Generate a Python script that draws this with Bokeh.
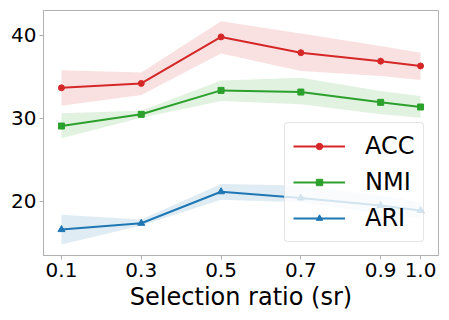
from bokeh.plotting import figure
from bokeh.models import FixedTicker, Range1d, Legend, LegendItem
from bokeh.embed import file_html
from bokeh.resources import INLINE

x = [0.1, 0.3, 0.5, 0.7, 0.9, 1.0]
x_tick_labels = ["0.1", "0.3", "0.5", "0.7", "0.9", "1.0"]
y_ticks = [20, 30, 40]

acc = [33.67, 34.2, 39.8, 37.9, 36.88, 36.3]
acc_lo = [31.5, 32.8, 37.8, 35.7, 35.1, 34.6]
acc_hi = [35.8, 35.5, 41.7, 40.2, 38.7, 37.9]

nmi = [29.07, 30.48, 33.36, 33.16, 31.92, 31.36]
nmi_lo = [27.6, 30.07, 32.08, 31.68, 30.5, 30.07]
nmi_hi = [30.6, 30.9, 34.56, 34.87, 33.3, 32.7]

ari = [16.6, 17.36, 21.16, 20.4, 19.5, 18.9]
ari_lo = [14.8, 17.1, 20.2, 19.9, 18.5, 17.9]
ari_hi = [18.4, 17.8, 22.1, 21.9, 20.7, 19.9]

FONT = "DejaVu Sans"
GRAY = "#b0b0b0"

p = figure(width=449, height=320, output_backend="svg", toolbar_location=None,
           x_range=Range1d(0.055, 1.045), y_range=Range1d(13.48, 42.98),
           min_border_left=43, min_border_right=11, min_border_top=10, min_border_bottom=65)

p.xgrid.visible = False
p.ygrid.visible = False
p.outline_line_color = GRAY
p.outline_line_width = 1
p.background_fill_color = "white"
p.border_fill_color = "white"

series = [
    ("ACC", acc, acc_lo, acc_hi, "#d62728", "circle", 6),
    ("NMI", nmi, nmi_lo, nmi_hi, "#2ca02c", "square", 6),
    ("ARI", ari, ari_lo, ari_hi, "#1f77b4", "triangle", 7),
]

items = []
for name, vals, lo, hi, col, mk, sz in series:
    p.varea(x=x, y1=lo, y2=hi, fill_color=col, fill_alpha=0.14)
for name, vals, lo, hi, col, mk, sz in series:
    r1 = p.line(x, vals, line_color=col, line_width=2)
    r2 = p.scatter(x, vals, marker=mk, size=sz, fill_color=col, line_color=col)
    items.append(LegendItem(label=name, renderers=[r1, r2]))

legend = Legend(items=items, location=(241, 13))
legend.label_text_font = FONT
legend.label_text_font_size = "24px"
legend.label_text_color = "black"
legend.glyph_width = 52
legend.glyph_height = 16
legend.label_height = 30
legend.label_standoff = 20
legend.spacing = 6
legend.padding = 8
legend.margin = 0
legend.border_line_color = "#cccccc"
legend.border_line_width = 1
legend.border_radius = 4
legend.background_fill_color = "white"
legend.background_fill_alpha = 0.8
p.add_layout(legend, "center")

p.xaxis.ticker = FixedTicker(ticks=x)
p.xaxis.major_label_overrides = {v: s for v, s in zip(x, x_tick_labels)}
p.yaxis.ticker = FixedTicker(ticks=y_ticks)

for ax in (p.xaxis[0], p.yaxis[0]):
    ax.axis_line_color = GRAY
    ax.major_tick_line_color = GRAY
    ax.major_tick_out = 4
    ax.major_tick_in = 0
    ax.minor_tick_line_color = None
    ax.major_label_text_font = FONT
    ax.major_label_text_font_size = "20px"
    ax.major_label_text_color = "black"
    ax.major_label_standoff = 3

p.xaxis.axis_label = "Selection ratio (sr)"
p.xaxis.axis_label_text_font = FONT
p.xaxis.axis_label_text_font_size = "24px"
p.xaxis.axis_label_text_font_style = "normal"
p.xaxis.axis_label_text_color = "black"
p.xaxis.axis_label_standoff = 3

open("out.html", "w").write(file_html(p, INLINE))
